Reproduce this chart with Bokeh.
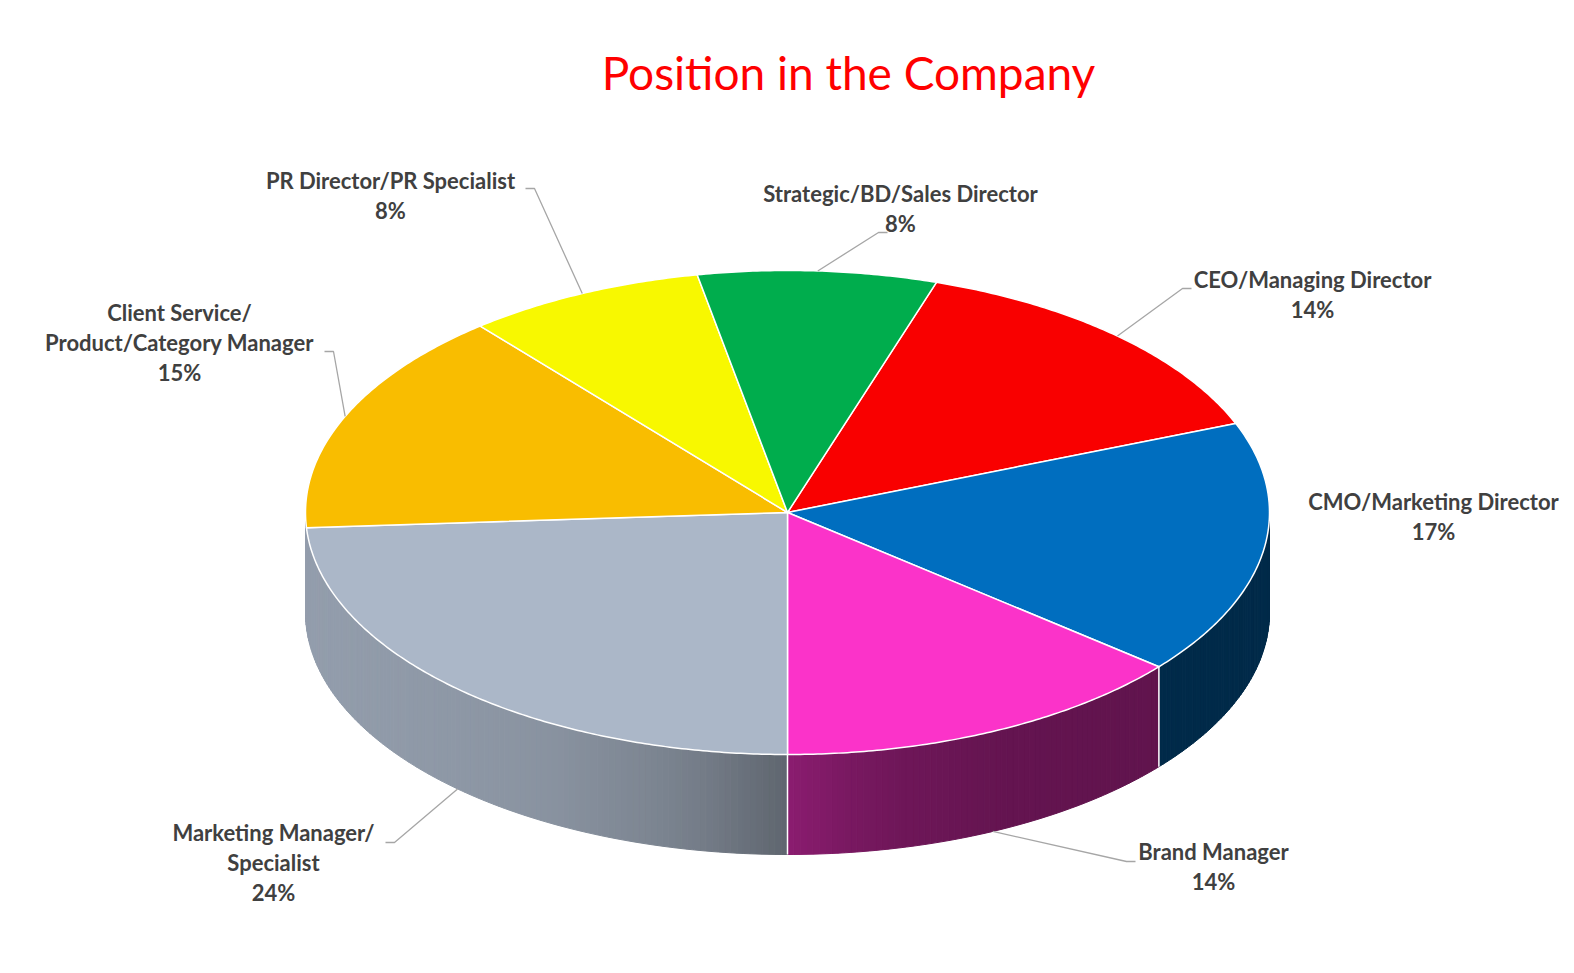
import numpy as np
from bokeh.plotting import figure
from bokeh.models import Range1d
from bokeh.core.properties import value
from bokeh.embed import file_html
from bokeh.resources import INLINE

# ---- data -------------------------------------------------------------
positions = [
    "CEO/Managing Director",
    "CMO/Marketing Director",
    "Brand Manager",
    "Marketing Manager/\nSpecialist",
    "Client Service/\nProduct/Category Manager",
    "PR Director/PR Specialist",
    "Strategic/BD/Sales Director",
]
shares = [14, 17, 14, 24, 15, 8, 8]
top_colors = ["#f90000", "#006ebf", "#fb33c9", "#abb7c8", "#f9bd00", "#f8f800", "#00ad4d"]
title_text = "Position in the Company"

# ---- layout -----------------------------------------------------------
W, H = 1574, 973
CX, CY, RX, RY, DEPTH = 787, 512, 482, 242, 100
START = 18.0          # first slice starts this many degrees clockwise from 12 o'clock
LINE_GAP = 30         # label line spacing
MIN_SIDE = 4.0        # side slivers narrower than this (deg) at the silhouette merge into their neighbour
# centre of the first line of each label
label_pos = [(1312, 279), (1433, 501), (1213, 851), (273, 832), (179, 312), (390, 180), (900, 193)]
# where each leader line leaves its label (None = no leader)
leader_from = [(1191, 288), None, (1135, 861), (385, 842), (324, 351), (525, 188), (887, 232)]

# side-wall shading as a function of horizontal position
shade_x = [304, 450, 550, 650, 700, 790, 850, 900, 1000, 1150, 1267]
shade_f = [0.86, 0.83, 0.80, 0.73, 0.68, 0.55, 0.48, 0.44, 0.40, 0.385, 0.38]

TEXT = "#404040"
FONT = value("Lato")


def pt(phi, drop=0.0):
    r = np.radians(phi)
    return CX + RX * np.sin(r), CY - RY * np.cos(r) + drop


def shade(hex_color, f):
    h = hex_color.lstrip("#")
    rgb = [int(h[i:i + 2], 16) for i in (0, 2, 4)]
    return "#%02x%02x%02x" % tuple(int(round(c * f)) for c in rgb)


p = figure(width=W, height=H, output_backend="svg", toolbar_location=None,
           x_range=Range1d(0, W), y_range=Range1d(H, 0), min_border=0,
           background_fill_color="white", border_fill_color="white")
p.axis.visible = False
p.grid.visible = False
p.outline_line_color = None

# slice angles
total = float(sum(shares))
edges = START + 360.0 * np.concatenate([[0], np.cumsum(shares)]) / total
starts, ends = edges[:-1], edges[1:]

# ---- side wall (front half, phi in [90, 270]) ---------------------------
spans = []
for a, b, col in zip(starts, ends, top_colors):
    for off in (0.0, 360.0):
        lo, hi = max(a - off, 90.0), min(b - off, 270.0)
        if lo < hi:
            spans.append([lo, hi, col])
spans.sort()
# fold tiny slivers at the silhouette into the neighbouring wall
if len(spans) > 1 and spans[-1][1] - spans[-1][0] < MIN_SIDE:
    last = spans.pop()
    spans[-1][1] = last[1]
if len(spans) > 1 and spans[0][1] - spans[0][0] < MIN_SIDE:
    first = spans.pop(0)
    spans[0][0] = first[0]

sx, sy, sc = [], [], []
for lo, hi, col in spans:
    n = max(2, int((hi - lo) / 0.75))
    ph = np.linspace(lo, hi, n + 1)
    for i in range(n):
        x0, y0 = pt(ph[i])
        x1, y1 = pt(ph[i + 1])
        xm = pt(0.5 * (ph[i] + ph[i + 1]))[0]
        c = shade(col, float(np.interp(xm, shade_x, shade_f)))
        sx.append([x0, x1, x1, x0])
        sy.append([y0, y1, y1 + DEPTH, y0 + DEPTH])
        sc.append(c)

p.patches(sx, sy, fill_color=sc, line_color=sc, line_width=1)

for lo, hi, col in spans[1:]:
    x0, y0 = pt(lo)
    p.line([x0, x0], [y0, y0 + DEPTH], line_color="white", line_width=1.5)

# ---- top face -----------------------------------------------------------
tx, ty = [], []
for a, b in zip(starts, ends):
    ph = np.linspace(a, b, max(8, int((b - a) * 2)))
    xs, ys = pt(ph)
    tx.append([CX] + list(xs))
    ty.append([CY] + list(ys))
p.patches(tx, ty, fill_color=top_colors, line_color="white", line_width=1.5,
          line_join="round")

# ---- leader lines -------------------------------------------------------
for a, b, src in zip(starts, ends, leader_from):
    if src is None:
        continue
    mid = 0.5 * (a + b) % 360.0
    front = 90.0 < mid < 270.0
    ex, ey = pt(mid, DEPTH if front else 0.0)
    elbow_x = src[0] + (9 if ex > src[0] else -9)
    p.line([src[0], elbow_x, ex], [src[1], src[1], ey], line_color="#a6a6a6", line_width=1.3)

# ---- labels -------------------------------------------------------------
lx, ly, lt = [], [], []
for name, s, (x, y) in zip(positions, shares, label_pos):
    lines = name.split("\n") + [f"{s}%"]
    for i, t in enumerate(lines):
        lx.append(x)
        ly.append(y + i * LINE_GAP)
        lt.append(t)
p.text(lx, ly, text=lt, text_font=FONT, text_font_style="bold", text_font_size="22px",
       text_color=TEXT, text_align="center", text_baseline="middle")

p.text([848], [72], text=[title_text], text_font=FONT, text_font_size="46px",
       text_color="#ff0000", text_align="center", text_baseline="middle")

open("out.html", "w").write(file_html(p, INLINE))
